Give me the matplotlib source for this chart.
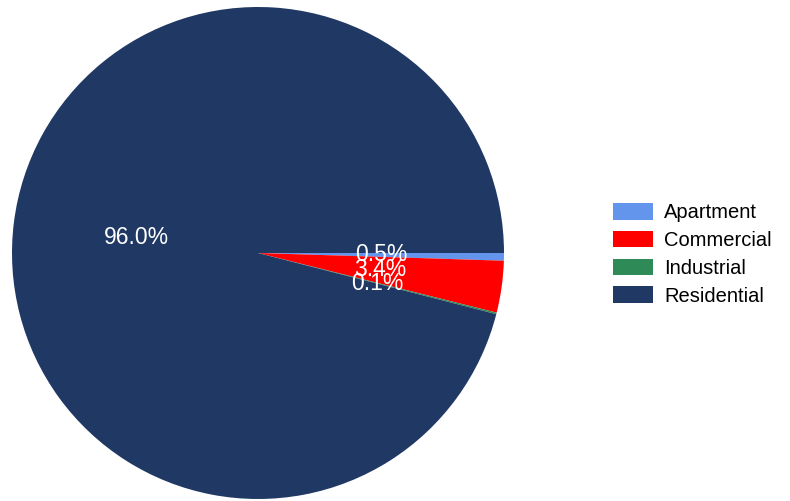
import matplotlib.pyplot as plt

plt.rcParams['font.family'] = ['Liberation Sans', 'DejaVu Sans']

categories = ['Apartment', 'Commercial', 'Industrial', 'Residential']
shares = [0.5, 3.4, 0.1, 96.0]
colors = ['#6495ED', '#FF0000', '#2E8B57', '#203864']

fig = plt.figure(figsize=(7.9, 5.01), dpi=100)
ax = fig.add_axes([12 / 790, 2 / 501, 492 / 790, 492 / 501])

wedges, texts, autotexts = ax.pie(
    shares, colors=colors, startangle=0, counterclock=False,
    autopct='%1.1f%%', pctdistance=0.5,
    textprops={'color': 'white', 'fontsize': 16.5})
ax.set_xlim(-1, 1)
ax.set_ylim(-1, 1)
ax.set_aspect('equal')
ax.axis('off')

fig.legend(wedges, categories, loc='upper left',
           bbox_to_anchor=(613 / 790, (501 - 203) / 501),
           frameon=False, fontsize=14.5, handlelength=2.0, handleheight=0.9,
           labelspacing=0.42, handletextpad=0.55, borderpad=0, borderaxespad=0)

fig.savefig('out.png', dpi=100)
